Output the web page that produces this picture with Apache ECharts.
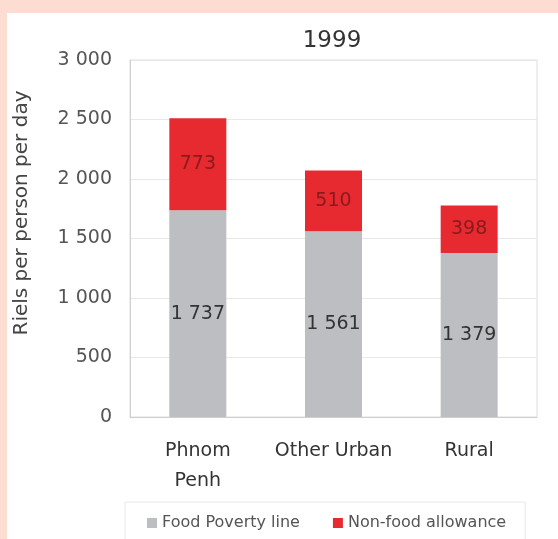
<!DOCTYPE html>
<html>
<head>
<meta charset="utf-8">
<script src="https://cdn.jsdelivr.net/npm/echarts@6/dist/echarts.min.js"></script>
<style>
html,body{margin:0;padding:0;background:#fddcd1;}
#wrap{position:absolute;left:7px;top:13px;width:551px;height:526px;background:#fff;}
#chart{position:absolute;left:0;top:0;width:558px;height:539px;}
</style>
</head>
<body>
<div id="wrap"></div>
<div id="chart"></div>
<script>
const categories = ['Phnom\nPenh', 'Other Urban', 'Rural'];
const foodPoverty = [1737, 1561, 1379];
const nonFood = [773, 510, 398];
const yTicks = [0, 500, 1000, 1500, 2000, 2500, 3000];
const seriesNames = ['Food Poverty line', 'Non-food allowance'];
const yAxisTitle = 'Riels per person per day';

function fmt(v){ return String(v).replace(/\B(?=(\d{3})+(?!\d))/g, ' '); }
const FONT = 'DejaVu Sans';

const chart = echarts.init(document.getElementById('chart'), null, {renderer:'canvas'});
chart.setOption({
  backgroundColor: 'transparent',
  animation: false,
  title: {
    text: '1999', left: 327, top: 25, textAlign: 'center',
    textStyle: {fontFamily: FONT, fontSize: 23, fontWeight: 'normal', color: '#333'}
  },
  graphic: [{
    type: 'text', x: 22, y: 213, rotation: Math.PI / 2,
    style: {text: yAxisTitle, fontFamily: FONT, fontSize: 20, fill: '#444',
      align: 'center', verticalAlign: 'middle'}
  }],
  grid: {left: 130, right: 21, top: 60, bottom: 122, show: true, borderColor: '#dedede', borderWidth: 1},
  legend: {
    data: seriesNames, left: 125, top: 502,
    itemWidth: 10, itemHeight: 10, itemGap: 33, padding: [13, 19, 20, 22],
    borderColor: '#e8e8e8', borderWidth: 1,
    textStyle: {fontFamily: FONT, fontSize: 16, color: '#555'},
    icon: 'rect'
  },
  xAxis: {
    type: 'category', data: categories,
    axisLine: {show: true, lineStyle: {color: '#cfcfcf'}},
    axisTick: {show: false},
    axisLabel: {interval: 0, fontFamily: FONT, fontSize: 19, color: '#333', margin: 19, lineHeight: 30}
  },
  yAxis: {
    type: 'value', min: 0, max: 3000, interval: 500,
    axisLine: {show: true, lineStyle: {color: '#cfcfcf'}},
    axisTick: {show: false},
    splitLine: {lineStyle: {color: '#e8e8e8'}},
    axisLabel: {fontFamily: FONT, fontSize: 19, color: '#555', margin: 18,
      formatter: v => yTicks.includes(v) ? fmt(v) : ''}
  },
  series: [
    {name: seriesNames[0], type: 'bar', stack: 'a', data: foodPoverty, barWidth: 57,
      itemStyle: {color: '#bdbec2'},
      label: {show: true, position: 'inside', formatter: p => fmt(p.value),
        fontFamily: FONT, fontSize: 19, color: '#333'}},
    {name: seriesNames[1], type: 'bar', stack: 'a', data: nonFood, barWidth: 57,
      itemStyle: {color: '#e62a30'},
      label: {show: true, position: 'inside', formatter: p => fmt(p.value),
        fontFamily: FONT, fontSize: 19, color: '#8a1a1c'}}
  ]
});
</script>
</body>
</html>
